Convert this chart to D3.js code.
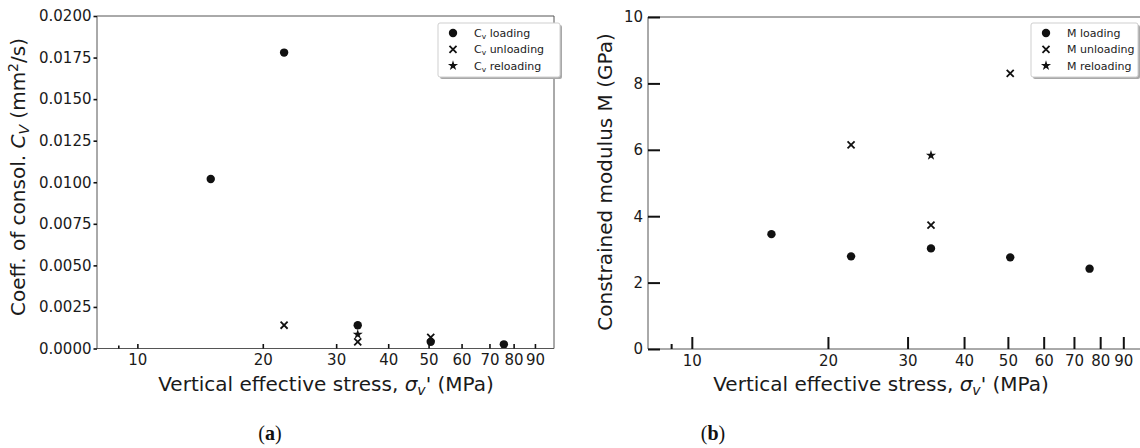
<!DOCTYPE html>
<html>
<head>
<meta charset="utf-8">
<script src="https://cdn.jsdelivr.net/npm/d3@7"></script>
<style>
  html, body { margin: 0; padding: 0; background: #fff; }
  svg { display: block; font-family: "DejaVu Sans", sans-serif; }
</style>
</head>
<body>
<svg id="chart" width="1140" height="448"></svg>
<script>
// Stress levels (MPa)
const stressLoading   = [15, 22.5, 33.8, 50.6, 75.8];
const stressUnloading = [22.5, 33.8, 50.6];
const stressReloading = [33.8];

// Coefficient of consolidation Cv (mm^2/s)
const cvLoading   = [0.0102, 0.0178, 0.0014, 0.0004, 0.00025];
const cvUnloading = [0.0014, 0.0004, 0.00067];
const cvReloading = [0.00085];

// Constrained modulus M (GPa)
const mLoading   = [3.46, 2.79, 3.03, 2.76, 2.42];
const mUnloading = [6.15, 3.73, 8.3];
const mReloading = [5.83];

// Axis ticks
const xMajorTicks = [10, 20, 30, 40, 50, 60, 70, 80, 90];
const xMinorTicks = [9];
const cvTicks = [0, 0.0025, 0.005, 0.0075, 0.01, 0.0125, 0.015, 0.0175, 0.02];
const mTicks = [0, 2, 4, 6, 8, 10];

const svg = d3.select("#chart");
const ink = "#111";
const frame = "#555";
const labelSize = 20;
const subSize = 14;
const tickSize = 15;

function drawMarker(g, type, x, y) {
  if (type === "circle") {
    g.append("circle").attr("cx", x).attr("cy", y).attr("r", 4.2).attr("fill", ink);
  } else if (type === "x") {
    g.append("path").attr("transform", `translate(${x},${y})`)
      .attr("d", d3.symbol(d3.symbolX, 34)())
      .attr("fill", "none").attr("stroke", ink).attr("stroke-width", 1.8);
  } else {
    g.append("path").attr("transform", `translate(${x},${y})`)
      .attr("d", d3.symbol(d3.symbolStar, 32)())
      .attr("fill", ink);
  }
}

function sigmaLabel(g, cx, cy) {
  const t = g.append("text").attr("x", cx).attr("y", cy)
    .attr("text-anchor", "middle").attr("font-size", labelSize).attr("fill", "#1a1a1a");
  t.append("tspan").text("Vertical effective stress, ");
  t.append("tspan").attr("font-style", "italic").text("σ");
  t.append("tspan").attr("font-style", "italic").attr("font-size", subSize).attr("dy", 4).text("v");
  t.append("tspan").attr("dy", -4).text("' (MPa)");
}

function legend(g, x0, y0, w, items) {
  const h = 54;
  g.append("rect").attr("x", x0 + 2).attr("y", y0 + 2).attr("width", w).attr("height", h)
    .attr("rx", 2).attr("fill", "#a8a8a8");
  g.append("rect").attr("x", x0).attr("y", y0).attr("width", w).attr("height", h)
    .attr("rx", 2).attr("fill", "#fff").attr("stroke", "#cfcfcf").attr("stroke-width", 1);
  items.forEach((it, i) => {
    const yy = y0 + 10 + i * 16.3;
    drawMarker(g, it.type, x0 + 15, yy);
    const t = g.append("text").attr("x", x0 + 36).attr("y", yy + 4)
      .attr("font-size", 11).attr("fill", "#222");
    it.parts.forEach(p => {
      const s = t.append("tspan").text(p.text);
      if (p.sub) s.attr("font-size", 7.5).attr("dy", 2);
      if (p.back) s.attr("dy", -2);
    });
  });
}

function panel(opts) {
  const g = svg.append("g");
  const x = d3.scaleLog().domain([8, 100]).range(opts.xRange);
  const y = d3.scaleLinear().domain(opts.yDomain).range(opts.yRange);
  const [xl, xr] = opts.xRange;
  const [yb, yt] = opts.yRange;

  // series markers
  opts.series.forEach(s => {
    s.xs.forEach((v, i) => drawMarker(g, s.type, x(v), y(s.ys[i])));
  });

  // frame
  [[xl, yb, xl, yt], [xl, yb, xr, yb], [xl, yt, xr, yt], [xr, yb, xr, yt]].forEach(([a, b, c, d]) => {
    g.append("line").attr("x1", a).attr("y1", b).attr("x2", c).attr("y2", d)
      .attr("stroke", frame).attr("stroke-width", 1);
  });

  // x axis: ticks point into the plot
  const xAxis = d3.axisBottom(x).tickValues(xMajorTicks)
    .tickSize(-opts.xTick).tickPadding(opts.xPad).tickFormat(d3.format("d"));
  const xa = g.append("g").attr("transform", `translate(0,${yb})`).call(xAxis);
  xa.select(".domain").remove();
  xa.selectAll(".tick line").attr("stroke", ink).attr("stroke-width", opts.tickW);
  xa.selectAll(".tick text").attr("font-size", tickSize).attr("fill", "#1a1a1a")
    .attr("font-family", "DejaVu Sans");
  const xm = d3.axisBottom(x).tickValues(xMinorTicks).tickSize(-opts.xMinor).tickFormat("");
  const xma = g.append("g").attr("transform", `translate(0,${yb})`).call(xm);
  xma.select(".domain").remove();
  xma.selectAll(".tick line").attr("stroke", ink).attr("stroke-width", opts.tickW);

  // y axis
  const yAxis = d3.axisLeft(y).tickValues(opts.yTicks)
    .tickSize(opts.yTick).tickPadding(opts.yPad).tickFormat(opts.yFormat);
  const ya = g.append("g").attr("transform", `translate(${xl},0)`).call(yAxis);
  ya.select(".domain").remove();
  ya.selectAll(".tick line").attr("stroke", ink).attr("stroke-width", opts.tickW);
  ya.selectAll(".tick text").attr("font-size", tickSize).attr("fill", "#1a1a1a")
    .attr("font-family", "DejaVu Sans");

  sigmaLabel(g, opts.xLabelX, opts.xLabelY);
  return g;
}

// (a) coefficient of consolidation
const ga = panel({
  xRange: [97, 554], yDomain: [0, 0.02], yRange: [348.5, 16],
  yTicks: cvTicks, yFormat: d3.format(".4f"),
  xTick: 4.5, xPad: 6, xMinor: 3, yTick: 3.5, yPad: 2, tickW: 1.6,
  xLabelX: 326, xLabelY: 391,
  series: [
    { type: "circle", xs: stressLoading, ys: cvLoading },
    { type: "x", xs: stressUnloading, ys: cvUnloading },
    { type: "star", xs: stressReloading, ys: cvReloading }
  ]
});
{
  const t = ga.append("text").attr("transform", "translate(25,177) rotate(-90)")
    .attr("text-anchor", "middle").attr("font-size", labelSize).attr("fill", "#1a1a1a");
  t.append("tspan").text("Coeff. of consol. ");
  t.append("tspan").attr("font-style", "italic").text("C");
  t.append("tspan").attr("font-style", "italic").attr("font-size", subSize).attr("dy", 4).text("V");
  t.append("tspan").attr("dy", -4).text(" (mm");
  t.append("tspan").attr("font-size", subSize).attr("dy", -7).text("2");
  t.append("tspan").attr("dy", 7).text("/s)");
}
legend(ga, 438, 23, 122, [
  { type: "circle", parts: [{ text: "C" }, { text: "v", sub: true }, { text: " loading", back: true }] },
  { type: "x", parts: [{ text: "C" }, { text: "v", sub: true }, { text: " unloading", back: true }] },
  { type: "star", parts: [{ text: "C" }, { text: "v", sub: true }, { text: " reloading", back: true }] }
]);

// (b) constrained modulus
const gb = panel({
  xRange: [648, 1144], yDomain: [0, 10], yRange: [349, 17],
  yTicks: mTicks, yFormat: d3.format("d"),
  xTick: 12, xPad: 6, xMinor: 5, yTick: -12, yPad: 5, tickW: 2,
  xLabelX: 881, xLabelY: 391,
  series: [
    { type: "circle", xs: stressLoading, ys: mLoading },
    { type: "x", xs: stressUnloading, ys: mUnloading },
    { type: "star", xs: stressReloading, ys: mReloading }
  ]
});
gb.append("text").attr("transform", "translate(612,182) rotate(-90)")
  .attr("text-anchor", "middle").attr("font-size", labelSize).attr("fill", "#1a1a1a")
  .text("Constrained modulus M (GPa)");
legend(gb, 1031, 23, 107, [
  { type: "circle", parts: [{ text: "M loading" }] },
  { type: "x", parts: [{ text: "M unloading" }] },
  { type: "star", parts: [{ text: "M reloading" }] }
]);

// panel captions
[["a", 270], ["b", 713]].forEach(([letter, cx]) => {
  const t = svg.append("text").attr("x", cx).attr("y", 440).attr("text-anchor", "middle")
    .attr("font-family", "Liberation Serif, serif").attr("font-size", 20).attr("fill", "#111");
  t.append("tspan").text("(");
  t.append("tspan").attr("font-weight", "bold").text(letter);
  t.append("tspan").text(")");
});
</script>
</body>
</html>
